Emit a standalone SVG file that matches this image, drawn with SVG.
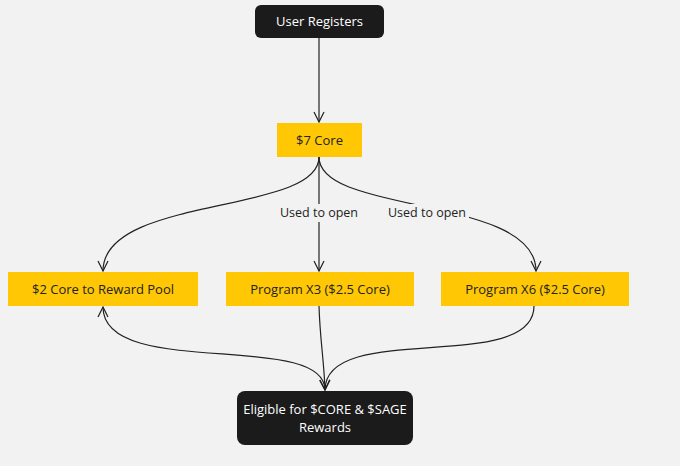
<svg xmlns="http://www.w3.org/2000/svg" width="680" height="466" viewBox="0 0 680 466">
<style>
.dark{fill:#1b1b1b}
.yel{fill:#ffc704}
.t{font-family:"Open Sans","Liberation Sans",sans-serif;font-size:13px;text-anchor:middle}
.tw{fill:#ffffff}
.tb{fill:#222222}
.lbl{font-family:"Open Sans","Liberation Sans",sans-serif;font-size:12.5px;text-anchor:middle;fill:#222222}
.c{fill:none;stroke:#222222;stroke-width:1.2}
</style>
<defs>
<marker id="arr" viewBox="0 0 12 12" refX="11" refY="6" markerWidth="12" markerHeight="12" markerUnits="userSpaceOnUse" orient="auto">
<path d="M1,1 L11,6 L1,11" fill="none" stroke="#222222" stroke-width="1.2"/>
</marker>
</defs>
<rect x="0" y="0" width="680" height="466" fill="#f2f2f2"/>
<g id="connectors">
<path class="c" d="M319,38 L319,122" marker-end="url(#arr)"/>
<path class="c" d="M319,157 C319,215 103,195 103,271" marker-end="url(#arr)"/>
<path class="c" d="M319,157 L319,271" marker-end="url(#arr)"/>
<path class="c" d="M319,157 C319,215 536,195 536,271" marker-end="url(#arr)"/>
<path class="c" d="M319,306 C320,340 324,360 325,390" marker-end="url(#arr)"/>
<path class="c" d="M534,306 C534,375 325,320 325,390" marker-end="url(#arr)"/>
<path class="c" d="M325,390 C325,330 103,380 103,307" marker-end="url(#arr)"/>
<rect x="278" y="204" width="82" height="18" fill="#f2f2f2"/>
<text class="lbl" x="319" y="217">Used to open</text>
<rect x="385" y="204" width="84" height="18" fill="#f2f2f2"/>
<text class="lbl" x="427" y="217">Used to open</text>
</g>
<g id="user-registers">
<rect class="dark" x="255" y="5" width="129" height="33" rx="6"/>
<text class="t tw" x="319.5" y="26">User Registers</text>
</g>
<g id="core7">
<rect class="yel" x="277" y="123" width="85" height="34"/>
<text class="t tb" x="319.5" y="145">$7 Core</text>
</g>
<g id="reward-pool">
<rect class="yel" x="8" y="272" width="190" height="34"/>
<text class="t tb" x="103" y="294">$2 Core to Reward Pool</text>
</g>
<g id="program-x3">
<rect class="yel" x="226" y="272" width="188" height="34"/>
<text class="t tb" x="320" y="294">Program X3 ($2.5 Core)</text>
</g>
<g id="program-x6">
<rect class="yel" x="441" y="272" width="188" height="34"/>
<text class="t tb" x="535" y="294">Program X6 ($2.5 Core)</text>
</g>
<g id="eligible">
<rect class="dark" x="237" y="391" width="176" height="54" rx="8"/>
<text class="t tw" x="325" y="414">Eligible for $CORE &amp; $SAGE</text>
<text class="t tw" x="325" y="432">Rewards</text>
</g>
</svg>
